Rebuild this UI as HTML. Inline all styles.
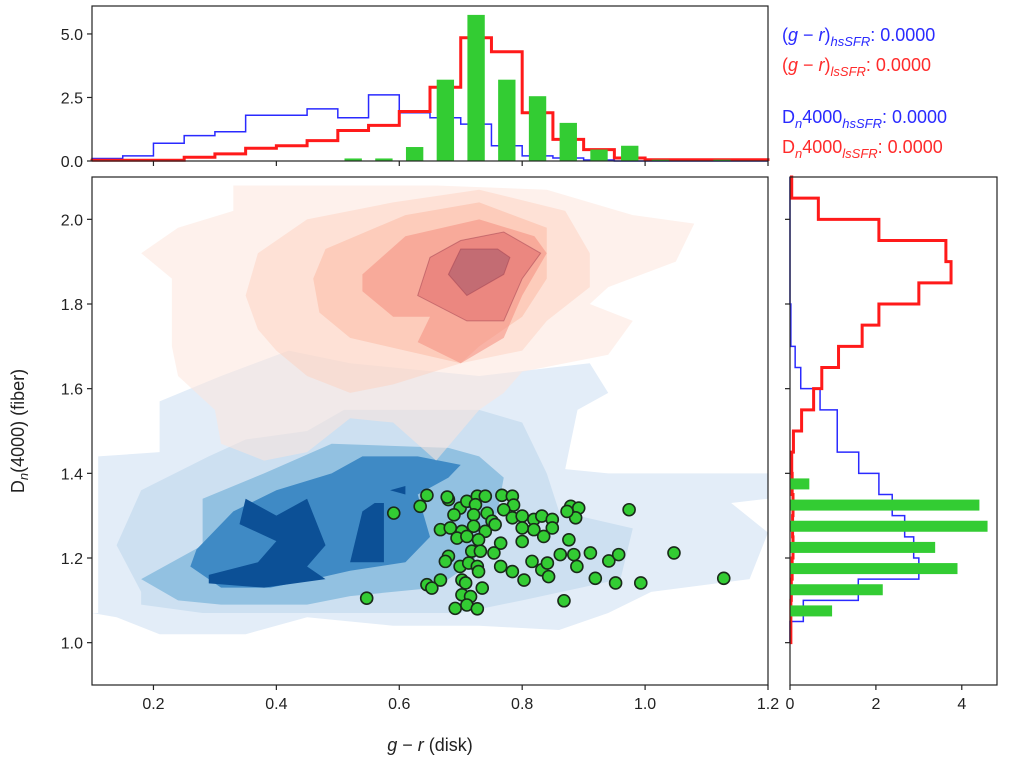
<!DOCTYPE html>
<html><head><meta charset="utf-8"><style>
html,body{margin:0;padding:0;background:#fff;}
svg{display:block;font-family:"Liberation Sans","DejaVu Sans",sans-serif;}
</style></head><body>
<svg id="chart" width="1020" height="759" viewBox="0 0 1020 759" xmlns="http://www.w3.org/2000/svg">
<defs><clipPath id="mainclip"><rect x="92" y="177" width="676" height="508"/></clipPath></defs>
<g id="contours" clip-path="url(#mainclip)"></g>
<g id="scatter"></g>
<g id="tophist"></g>
<g id="righthist"></g>
<g id="axes"></g>
<g font-size="18">
<text x="782" y="41" fill="#2a2aff">(<tspan font-style="italic">g</tspan> − <tspan font-style="italic">r</tspan>)<tspan font-size="13" dy="5" font-style="italic">hsSFR</tspan><tspan dy="-5">:  0.0000</tspan></text>
<text x="782" y="71" fill="#ff2a2a">(<tspan font-style="italic">g</tspan> − <tspan font-style="italic">r</tspan>)<tspan font-size="13" dy="5" font-style="italic">lsSFR</tspan><tspan dy="-5">:  0.0000</tspan></text>
<text x="782" y="123" fill="#2a2aff">D<tspan font-size="13" dy="5" font-style="italic">n</tspan><tspan dy="-5">4000</tspan><tspan font-size="13" dy="5" font-style="italic">hsSFR</tspan><tspan dy="-5">:  0.0000</tspan></text>
<text x="782" y="153" fill="#ff2a2a">D<tspan font-size="13" dy="5" font-style="italic">n</tspan><tspan dy="-5">4000</tspan><tspan font-size="13" dy="5" font-style="italic">lsSFR</tspan><tspan dy="-5">:  0.0000</tspan></text>
</g>
<text x="430" y="751" font-size="18" text-anchor="middle" fill="#222"><tspan font-style="italic">g</tspan> − <tspan font-style="italic">r</tspan> (disk)</text>
<text transform="translate(24,431) rotate(-90)" font-size="18" text-anchor="middle" fill="#222">D<tspan font-size="13" dy="4" font-style="italic">n</tspan><tspan dy="-4">(4000) (fiber)</tspan></text>
</svg>
<script>
// ---- data ----
const scatterGR = [0.645,0.634,0.591,0.680,0.678,0.699,0.689,0.710,0.727,0.740,0.724,0.743,0.721,0.767,0.784,0.786,0.770,0.784,0.800,0.819,0.832,0.849,0.849,0.819,0.800,0.835,0.879,0.892,0.887,0.873,0.974,0.667,0.683,0.702,0.721,0.740,0.751,0.756,0.694,0.710,0.729,0.765,0.800,0.876,0.718,0.732,0.754,0.680,0.675,0.699,0.713,0.727,0.729,0.765,0.784,0.816,0.832,0.841,0.843,0.862,0.884,0.911,0.889,0.941,0.957,1.047,0.919,0.952,0.993,1.128,0.803,0.667,0.645,0.653,0.702,0.708,0.702,0.735,0.716,0.547,0.691,0.710,0.727,0.868];
const scatterDn = [1.348,1.322,1.306,1.338,1.344,1.318,1.302,1.334,1.346,1.346,1.326,1.306,1.302,1.348,1.346,1.325,1.314,1.295,1.299,1.291,1.299,1.291,1.271,1.267,1.271,1.251,1.322,1.318,1.295,1.310,1.314,1.267,1.271,1.263,1.275,1.263,1.287,1.279,1.247,1.251,1.243,1.235,1.239,1.243,1.216,1.216,1.212,1.204,1.192,1.180,1.188,1.180,1.168,1.180,1.168,1.192,1.172,1.188,1.156,1.208,1.208,1.212,1.180,1.193,1.208,1.212,1.152,1.141,1.141,1.152,1.148,1.148,1.137,1.129,1.148,1.141,1.113,1.129,1.109,1.105,1.081,1.089,1.080,1.099];
const topBinStart = 0.1, topBinWidth = 0.05;
const topBlue = [0.1,0.2,0.7,1.0,1.15,1.8,1.8,2.05,1.7,2.6,1.9,1.7,1.45,0.6,0.2,0.12,0.04,0,0,0,0,0];
const topRed = [0.03,0.03,0.03,0.15,0.28,0.5,0.6,0.8,1.2,1.4,1.95,2.9,4.85,4.3,1.9,0.85,0.45,0.12,0.05,0.05,0.05,0.05];
const topGreenCenters = [0.525,0.575,0.625,0.675,0.725,0.775,0.825,0.875,0.925,0.975,1.025,1.125];
const topGreen = [0.1,0.1,0.55,3.2,5.75,3.2,2.55,1.5,0.45,0.6,0.05,0.05];
const rightBinStart = 1.0, rightBinWidth = 0.05;
const rightRed = [0.02,0.02,0.03,0.05,0.07,0.06,0.07,0.05,0.04,0.08,0.27,0.55,0.74,1.13,1.68,2.07,3.0,3.75,3.63,2.07,0.66,0.04];
const rightBlue = [0,0.31,1.59,3.0,2.88,2.67,2.38,2.07,1.6,1.1,1.1,0.7,0.25,0.12,0.02,0.02,0,0,0,0,0,0];
const rightGreenCenters = [1.075,1.125,1.175,1.225,1.275,1.325,1.375];
const rightGreen = [0.98,2.16,3.9,3.38,4.6,4.41,0.45];
const xTicks = [0.2,0.4,0.6,0.8,1.0,1.2];
const xTickLabels = ["0.2","0.4","0.6","0.8","1.0","1.2"];
const yTicks = [1.0,1.2,1.4,1.6,1.8,2.0];
const yTickLabels = ["1.0","1.2","1.4","1.6","1.8","2.0"];
const topYTicks = [0,2.5,5.0];
const topYTickLabels = ["0.0","2.5","5.0"];
const rightXTicks = [0,2,4];
const rightXTickLabels = ["0","2","4"];
const blueLevels = [
 [[0.11,1.07],[0.11,1.44],[0.21,1.45],[0.21,1.57],[0.31,1.63],[0.42,1.69],[0.52,1.66],[0.73,1.63],[0.91,1.66],[0.94,1.59],[0.89,1.55],[0.87,1.41],[0.94,1.40],[1.2,1.40],[1.2,1.34],[1.14,1.33],[1.2,1.26],[1.17,1.15],[1.01,1.12],[0.94,1.07],[0.86,1.03],[0.73,1.04],[0.59,1.04],[0.45,1.06],[0.35,1.02],[0.21,1.02],[0.14,1.06],[0.1,1.07]],
 [[0.18,1.12],[0.14,1.23],[0.18,1.36],[0.29,1.44],[0.35,1.48],[0.45,1.50],[0.51,1.55],[0.73,1.55],[0.80,1.52],[0.84,1.40],[0.86,1.31],[0.98,1.27],[0.96,1.15],[0.80,1.10],[0.70,1.07],[0.52,1.07],[0.38,1.07],[0.28,1.07],[0.18,1.09]],
 [[0.18,1.15],[0.28,1.23],[0.28,1.34],[0.38,1.40],[0.49,1.47],[0.68,1.46],[0.73,1.44],[0.77,1.39],[0.76,1.31],[0.72,1.19],[0.66,1.13],[0.52,1.11],[0.45,1.09],[0.31,1.09],[0.24,1.10]],
 [[0.26,1.18],[0.27,1.22],[0.33,1.31],[0.40,1.36],[0.49,1.40],[0.54,1.44],[0.63,1.44],[0.70,1.42],[0.68,1.39],[0.63,1.35],[0.65,1.25],[0.61,1.19],[0.52,1.17],[0.46,1.15],[0.39,1.13],[0.31,1.13]],
 [[0.29,1.16],[0.37,1.19],[0.40,1.24],[0.34,1.28],[0.35,1.34],[0.40,1.30],[0.45,1.34],[0.48,1.23],[0.45,1.18],[0.48,1.15],[0.38,1.13],[0.29,1.14]],
 [[0.52,1.19],[0.54,1.31],[0.56,1.33],[0.575,1.33],[0.575,1.19]],
 [[0.585,1.36],[0.61,1.37],[0.61,1.35]]
];
const blueColors = ["#e3edf8","#cde0f1","#92c1e1","#3f8ac5","#0c5096","#0c5096","#0c5096"];
const redLevels = [
 [[0.18,1.92],[0.24,1.98],[0.33,2.02],[0.33,2.08],[0.51,2.08],[0.66,2.08],[0.84,2.07],[0.98,2.01],[1.08,1.99],[1.05,1.90],[0.94,1.84],[0.91,1.80],[0.98,1.76],[0.94,1.68],[0.80,1.64],[0.77,1.59],[0.73,1.55],[0.66,1.43],[0.59,1.52],[0.52,1.53],[0.45,1.45],[0.38,1.43],[0.31,1.47],[0.30,1.55],[0.24,1.63],[0.23,1.70],[0.23,1.86]],
 [[0.37,1.92],[0.45,2.0],[0.59,2.04],[0.73,2.07],[0.87,2.02],[0.91,1.92],[0.91,1.84],[0.84,1.76],[0.80,1.69],[0.70,1.66],[0.59,1.61],[0.52,1.59],[0.45,1.63],[0.40,1.69],[0.37,1.74],[0.35,1.82]],
 [[0.48,1.93],[0.61,2.01],[0.73,2.04],[0.84,1.98],[0.84,1.86],[0.80,1.77],[0.73,1.70],[0.70,1.66],[0.61,1.69],[0.52,1.72],[0.47,1.78],[0.46,1.86]],
 [[0.54,1.87],[0.61,1.96],[0.73,2.0],[0.82,1.96],[0.84,1.92],[0.80,1.82],[0.77,1.72],[0.70,1.66],[0.63,1.71],[0.65,1.77],[0.59,1.77],[0.54,1.83]],
 [[0.65,1.91],[0.70,1.95],[0.77,1.97],[0.83,1.92],[0.80,1.86],[0.77,1.76],[0.71,1.76],[0.63,1.82]],
 [[0.68,1.87],[0.70,1.93],[0.76,1.93],[0.78,1.91],[0.77,1.87],[0.71,1.82]]
];
const redColors = ["#fee6dc","#fdd2c0","#fbb8a0","#f48e80","#e06a6c","#a85a6a"];

const X0=92, X1=768, xMin=0.1, xMax=1.2;
const Y0=685, Y1=177, yMin=0.9, yMax=2.1;
const sx = v => X0 + (v-xMin)/(xMax-xMin)*(X1-X0);
const sy = v => Y0 - (v-yMin)/(yMax-yMin)*(Y0-Y1);
const TB=161, TT=6, tMax=6.1;
const ty = v => TB - v/tMax*(TB-TT);
const RL=790, RR=997, rMax=4.82;
const rx = v => RL + v/rMax*(RR-RL);

const NS="http://www.w3.org/2000/svg";
function mk(tag, parent){const e=document.createElementNS(NS,tag);parent.appendChild(e);return e;}

const cg=document.getElementById('contours');
blueLevels.forEach((poly,i)=>{
  const p=mk('polygon',cg);
  p.setAttribute('points',poly.map(q=>sx(q[0])+','+sy(q[1])).join(' '));
  p.setAttribute('fill',blueColors[i]);
  
  
});
const redOp=[0.55,0.5,0.5,0.55,0.55,0.6];
redLevels.forEach((poly,i)=>{
  const p=mk('polygon',cg);
  p.setAttribute('points',poly.map(q=>sx(q[0])+','+sy(q[1])).join(' '));
  p.setAttribute('fill',redColors[i]);
  p.setAttribute('fill-opacity',redOp[i]);
  if(i>=4){p.setAttribute('stroke','#a04050');p.setAttribute('stroke-opacity','0.5');}
  
  
});

const sg=document.getElementById('scatter');
scatterGR.forEach((g,i)=>{
  const c=mk('circle',sg);
  c.setAttribute('cx',sx(g));c.setAttribute('cy',sy(scatterDn[i]));c.setAttribute('r',6);
  c.setAttribute('fill','#33cc33');c.setAttribute('stroke','#1a2a1a');c.setAttribute('stroke-width','1.6');
  
  
});

function topStep(vals){
  let d='M'+sx(topBinStart)+','+ty(0);
  vals.forEach((v,i)=>{const a=topBinStart+i*topBinWidth;d+=' L'+sx(a)+','+ty(v)+' L'+sx(a+topBinWidth)+','+ty(v);});
  d+=' L'+sx(topBinStart+vals.length*topBinWidth)+','+ty(0);return d;
}
function rightStep(vals){
  let d='M'+rx(0)+','+sy(rightBinStart);
  vals.forEach((v,i)=>{const a=rightBinStart+i*rightBinWidth;d+=' L'+rx(v)+','+sy(a)+' L'+rx(v)+','+sy(a+rightBinWidth);});
  d+=' L'+rx(0)+','+sy(rightBinStart+vals.length*rightBinWidth);return d;
}
const tg=document.getElementById('tophist');
let p=mk('path',tg);p.setAttribute('d',topStep(topBlue));p.setAttribute('fill','none');p.setAttribute('stroke','#2a2aff');p.setAttribute('stroke-width','1.5');


p=mk('path',tg);p.setAttribute('d',topStep(topRed));p.setAttribute('fill','none');p.setAttribute('stroke','#ff1a1a');p.setAttribute('stroke-width','3');


topGreenCenters.forEach((c,i)=>{
  const r=mk('rect',tg);const w=(sx(0.025)-sx(0));
  r.setAttribute('x',sx(c)-w/2-1);r.setAttribute('width',w+2);r.setAttribute('y',ty(topGreen[i]));r.setAttribute('height',ty(0)-ty(topGreen[i]));r.setAttribute('fill','#33cc33');
  
  
});
const rg=document.getElementById('righthist');
p=mk('path',rg);p.setAttribute('d',rightStep(rightBlue));p.setAttribute('fill','none');p.setAttribute('stroke','#2a2aff');p.setAttribute('stroke-width','1.5');


p=mk('path',rg);p.setAttribute('d',rightStep(rightRed));p.setAttribute('fill','none');p.setAttribute('stroke','#ff1a1a');p.setAttribute('stroke-width','3');


rightGreenCenters.forEach((c,i)=>{
  const r=mk('rect',rg);const h=sy(0)-sy(0.026);
  r.setAttribute('x',rx(0));r.setAttribute('width',rx(rightGreen[i])-rx(0));r.setAttribute('y',sy(c)-h/2);r.setAttribute('height',h);r.setAttribute('fill','#33cc33');
  
  
});

const ag=document.getElementById('axes');
function frame(x,y,w,h,name){const r=mk('rect',ag);r.setAttribute('x',x);r.setAttribute('y',y);r.setAttribute('width',w);r.setAttribute('height',h);r.setAttribute('fill','none');r.setAttribute('stroke','#222');r.setAttribute('stroke-width','1.2');

}
frame(X0,Y1,X1-X0,Y0-Y1,'main-axes-frame');
frame(X0,TT,X1-X0,TB-TT,'top-axes-frame');
frame(RL,Y1,RR-RL,Y0-Y1,'right-axes-frame');
function line(x1,y1,x2,y2){const l=mk('line',ag);l.setAttribute('x1',x1);l.setAttribute('y1',y1);l.setAttribute('x2',x2);l.setAttribute('y2',y2);l.setAttribute('stroke','#222');l.setAttribute('stroke-width','1.2');

}
function label(x,y,t,anchor,name){const e=mk('text',ag);e.setAttribute('x',x);e.setAttribute('y',y);e.setAttribute('font-size','16');e.setAttribute('fill','#222');e.setAttribute('text-anchor',anchor);e.textContent=t;

}
xTicks.forEach((v,i)=>{line(sx(v),Y0,sx(v),Y0+5);label(sx(v),Y0+24,xTickLabels[i],'middle','x-tick-label');line(sx(v),TB,sx(v),TB+5);});
yTicks.forEach((v,i)=>{line(X0-5,sy(v),X0,sy(v));label(X0-9,sy(v)+6,yTickLabels[i],'end','y-tick-label');line(RL-5,sy(v),RL,sy(v));});
topYTicks.forEach((v,i)=>{line(X0-5,ty(v),X0,ty(v));label(X0-9,ty(v)+6,topYTickLabels[i],'end','top-y-tick-label');});
rightXTicks.forEach((v,i)=>{line(rx(v),Y0,rx(v),Y0+5);label(rx(v),Y0+24,rightXTickLabels[i],'middle','right-x-tick-label');});
</script>
</body></html>
